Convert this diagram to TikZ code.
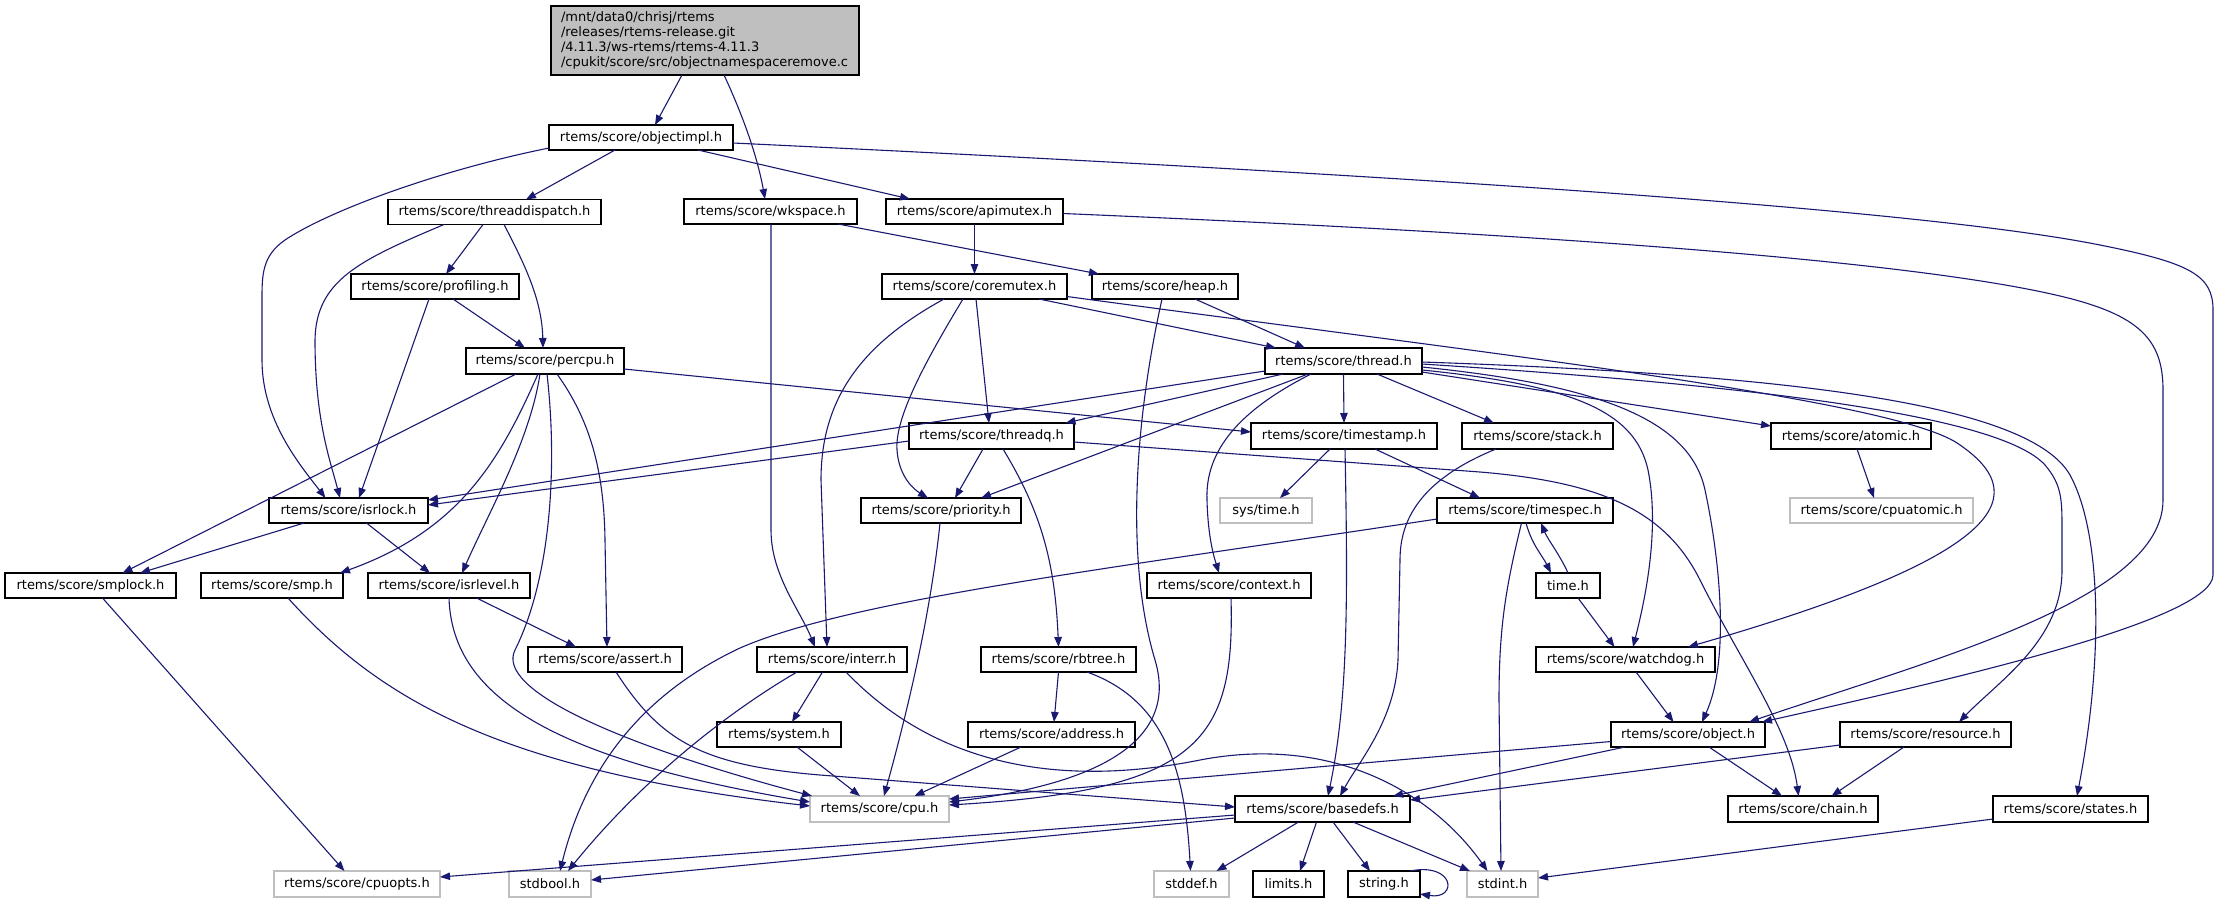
\documentclass[tikz,border=0pt]{standalone}
\usepackage{fontspec}
\setmainfont{DejaVu Sans}
\usetikzlibrary{arrows.meta}
\definecolor{dgblue}{RGB}{25,25,112}
\definecolor{sysgray}{RGB}{191,191,191}
\begin{document}
\begin{tikzpicture}[x=1pt,y=-1pt,
 inc/.style={draw=black,line width=1.3pt,fill=white,inner sep=0pt,outer sep=0pt,minimum height=25pt,font=\fontsize{13}{15}\selectfont},
 sysinc/.style={inc,draw=sysgray},
 rootinc/.style={inc,fill=sysgray,minimum height=69pt,inner xsep=10pt,text width=288pt,align=left,font=\fontsize{13}{14.8}\selectfont},
 dep/.style={draw=dgblue,line width=1.1pt,-{Triangle[length=10pt,width=7.5pt]}}]
\useasboundingbox (0,0) rectangle (2219,903);

\node[rootinc] (root) at (705,40.5) {/mnt/data0/chrisj/rtems\\/releases/rtems-release.git\\/4.11.3/ws-rtems/rtems-4.11.3\\/cpukit/score/src/objectnamespaceremove.c};
\node[inc,minimum width=184pt] (objectimpl) at (641,137.5) {rtems/score/objectimpl.h};
\node[inc,minimum width=213pt] (threaddispatch) at (494.5,212) {rtems/score/threaddispatch.h};
\node[inc,minimum width=173pt] (wkspace) at (770.5,211.5) {rtems/score/wkspace.h};
\node[inc,minimum width=177pt] (apimutex) at (974.5,211.5) {rtems/score/apimutex.h};
\node[inc,minimum width=168pt] (profiling) at (435,286.5) {rtems/score/profiling.h};
\node[inc,minimum width=185pt] (coremutex) at (974.5,286.5) {rtems/score/coremutex.h};
\node[inc,minimum width=146pt] (heap) at (1165,286.5) {rtems/score/heap.h};
\node[inc,minimum width=158pt,minimum height=26pt] (percpu) at (545,361) {rtems/score/percpu.h};
\node[inc,minimum width=157pt,minimum height=26pt] (thread) at (1343.5,361) {rtems/score/thread.h};
\node[inc,minimum width=165pt,minimum height=26pt] (threadq) at (991.5,436) {rtems/score/threadq.h};
\node[inc,minimum width=186pt,minimum height=26pt] (timestamp) at (1344,436) {rtems/score/timestamp.h};
\node[inc,minimum width=151pt,minimum height=26pt] (stack) at (1537.5,436) {rtems/score/stack.h};
\node[inc,minimum width=160pt,minimum height=26pt] (atomic) at (1851,436) {rtems/score/atomic.h};
\node[inc,minimum width=159pt] (isrlock) at (348.5,510.5) {rtems/score/isrlock.h};
\node[inc,minimum width=160pt] (priority) at (941,510.5) {rtems/score/priority.h};
\node[sysinc,minimum width=92pt] (systime) at (1266,510.5) {sys/time.h};
\node[inc,minimum width=176pt] (timespec) at (1525,510.5) {rtems/score/timespec.h};
\node[sysinc,minimum width=183pt] (cpuatomic) at (1881.5,510.5) {rtems/score/cpuatomic.h};
\node[inc,minimum width=171pt] (smplock) at (90.5,585.5) {rtems/score/smplock.h};
\node[inc,minimum width=142pt] (smp) at (272,585.5) {rtems/score/smp.h};
\node[inc,minimum width=162pt] (isrlevel) at (449,585.5) {rtems/score/isrlevel.h};
\node[inc,minimum width=164pt] (context) at (1229,585.5) {rtems/score/context.h};
\node[inc,minimum width=64pt] (time) at (1568,585.5) {time.h};
\node[inc,minimum width=154pt] (assert) at (605,659.5) {rtems/score/assert.h};
\node[inc,minimum width=150pt] (interr) at (832,659.5) {rtems/score/interr.h};
\node[inc,minimum width=155pt] (rbtree) at (1058.5,659.5) {rtems/score/rbtree.h};
\node[inc,minimum width=179pt] (watchdog) at (1625.5,659.5) {rtems/score/watchdog.h};
\node[inc,minimum width=124pt] (system) at (779,734.5) {rtems/system.h};
\node[inc,minimum width=167pt] (address) at (1051.5,734.5) {rtems/score/address.h};
\node[inc,minimum width=154pt] (object) at (1688,734.5) {rtems/score/object.h};
\node[inc,minimum width=171pt] (resource) at (1925.5,734.5) {rtems/score/resource.h};
\node[sysinc,minimum width=139pt,minimum height=26pt] (cpu) at (879.5,809) {rtems/score/cpu.h};
\node[inc,minimum width=175pt,minimum height=26pt] (basedefs) at (1322.5,809) {rtems/score/basedefs.h};
\node[inc,minimum width=150pt,minimum height=26pt] (chain) at (1803,809) {rtems/score/chain.h};
\node[inc,minimum width=155pt,minimum height=26pt] (states) at (2070.5,809) {rtems/score/states.h};
\node[sysinc,minimum width=166pt,minimum height=26pt] (cpuopts) at (357,884) {rtems/score/cpuopts.h};
\node[sysinc,minimum width=82pt,minimum height=26pt] (stdbool) at (550,884) {stdbool.h};
\node[sysinc,minimum width=75pt,minimum height=26pt] (stddef) at (1191.5,884) {stddef.h};
\node[inc,minimum width=71pt,minimum height=26pt] (limits) at (1288.5,884) {limits.h};
\node[inc,minimum width=72pt,minimum height=26pt] (string) at (1384,884) {string.h};
\node[sysinc,minimum width=71pt,minimum height=26pt] (stdint) at (1502.5,884) {stdint.h};

\draw[dep] ([xshift=-23pt]root.south) -- ([xshift=14pt]objectimpl.north);
\draw[dep] ([xshift=19pt]root.south) .. controls (745,120) and (758,160) .. ([xshift=-5.5pt]wkspace.north);
\draw[dep] ([yshift=-10.5pt]objectimpl.west) .. controls (440,170) and (330,210) .. (285,240) .. controls (262,256) and (262,275) .. (262,300) -- (262,360) .. controls (262,420) and (300,465) .. ([xshift=-23pt]isrlock.north);
\draw[dep] ([xshift=-26pt]objectimpl.south) -- ([xshift=31.5pt]threaddispatch.north);
\draw[dep] ([xshift=57pt]objectimpl.south) -- ([xshift=-64.5pt]apimutex.north);
\draw[dep] ([yshift=-5.5pt]objectimpl.east) .. controls (1300,170) and (1900,205) .. (2100,245) .. controls (2190,263) and (2213,275) .. (2213,310) -- (2213,575) .. controls (2213,620) and (1950,680) .. ([xshift=-3pt]object.north east);
\draw[dep] ([xshift=-50.5pt]threaddispatch.south) .. controls (360,260) and (316,280) .. (315,340) .. controls (315,420) and (330,460) .. ([xshift=-8.5pt]isrlock.north);
\draw[dep] ([xshift=-11.5pt]threaddispatch.south) -- ([xshift=11pt]profiling.north);
\draw[dep] ([xshift=9.5pt]threaddispatch.south) .. controls (525,265) and (542,300) .. ([xshift=-2pt]percpu.north);
\draw[dep] ([xshift=-6pt]profiling.south) -- ([xshift=10.5pt]isrlock.north);
\draw[dep] ([xshift=18pt]profiling.south) -- ([xshift=-20pt]percpu.north);
\draw[dep] ([xshift=-29pt]percpu.south) -- ([xshift=32pt]smplock.north);
\draw[dep] ([xshift=-7pt]percpu.south) .. controls (500,460) and (460,530) .. ([xshift=68pt]smp.north);
\draw[dep] ([xshift=-5pt]percpu.south) .. controls (530,440) and (490,510) .. ([xshift=13pt]isrlevel.north);
\draw[dep] ([xshift=2pt]percpu.south) .. controls (558,470) and (550,580) .. (515,650) .. controls (495,690) and (620,745) .. ([xshift=2pt]cpu.north west);
\draw[dep] ([xshift=12pt]percpu.south) .. controls (590,420) and (604,470) .. (605,540) -- ([xshift=2pt]assert.north);
\draw[dep] ([yshift=-8pt]percpu.east) -- ([yshift=4pt]timestamp.west);
\draw[dep] ([xshift=67.5pt]wkspace.south) -- ([xshift=-66pt]heap.north);
\draw[dep] ([xshift=0.5pt]wkspace.south) -- (771,530) .. controls (771,575) and (800,610) .. ([xshift=-17pt]interr.north);
\draw[dep] (apimutex.south) -- (coremutex.north);
\draw[dep] ([yshift=-2pt]apimutex.east) .. controls (1500,232) and (1900,258) .. (2060,296) .. controls (2140,315) and (2163,340) .. (2163,390) -- (2163,500) .. controls (2163,600) and (1930,660) .. ([xshift=-16pt]object.north east);
\draw[dep] ([xshift=-30.5pt]coremutex.south) .. controls (860,345) and (821,400) .. (821,480) -- ([xshift=-5pt]interr.north);
\draw[dep] ([xshift=-11.5pt]coremutex.south) .. controls (920,370) and (895,420) .. (897,450) .. controls (899,478) and (915,490) .. ([xshift=-13pt]priority.north);
\draw[dep] ([xshift=1.5pt]coremutex.south) -- ([xshift=-2.5pt]threadq.north);
\draw[dep] ([xshift=64.5pt]coremutex.south) -- ([xshift=-67.5pt]thread.north);
\draw[dep] ([yshift=-10pt]coremutex.east) .. controls (1500,355) and (1900,400) .. (1960,445) .. controls (2040,500) and (1990,560) .. ([xshift=62.5pt]watchdog.north);
\draw[dep] ([xshift=30pt]heap.south) -- ([xshift=-38.5pt]thread.north);
\draw[dep] ([xshift=-3pt]heap.south) .. controls (1135,420) and (1125,560) .. (1155,660) .. controls (1185,760) and (1050,790) .. ([yshift=7pt]cpu.east);
\draw[dep] ([yshift=-10pt]thread.west) -- ([yshift=10.5pt]isrlock.east);
\draw[dep] ([xshift=-60.5pt]thread.south) -- ([xshift=74pt]threadq.north);
\draw[dep] ([xshift=-35.5pt]thread.south) -- ([xshift=40pt]priority.north);
\draw[dep] ([xshift=-32.5pt]thread.south) .. controls (1240,410) and (1205,450) .. (1207,500) .. controls (1208,540) and (1215,560) .. ([xshift=-10pt]context.north);
\draw[dep] (thread.south) -- (timestamp.north);
\draw[dep] ([xshift=33.5pt]thread.south) -- ([xshift=-43.5pt]stack.north);
\draw[dep] ([yshift=-11pt]thread.east) -- ([yshift=10pt]atomic.west);
\draw[dep] ([yshift=-9pt]thread.east) .. controls (1570,385) and (1635,410) .. (1648,470) .. controls (1660,530) and (1645,600) .. ([xshift=7.5pt]watchdog.north);
\draw[dep] ([yshift=-6pt]thread.east) .. controls (1600,385) and (1690,420) .. (1705,490) .. controls (1720,560) and (1730,660) .. ([xshift=14pt]object.north);
\draw[dep] ([yshift=-3pt]thread.east) .. controls (1750,385) and (2000,415) .. (2045,465) .. controls (2062,485) and (2062,500) .. (2062,530) -- (2062,570) .. controls (2062,640) and (2000,680) .. ([xshift=33.5pt]resource.north);
\draw[dep] ([yshift=-1pt]thread.east) .. controls (1800,375) and (2030,405) .. (2070,475) .. controls (2100,530) and (2105,650) .. ([xshift=6.5pt]states.north);
\draw[dep] ([xshift=-14pt]timestamp.south) -- ([xshift=14pt]systime.north);
\draw[dep] ([xshift=1pt]timestamp.south) .. controls (1348,600) and (1348,700) .. ([xshift=5.5pt]basedefs.north);
\draw[dep] ([xshift=31pt]timestamp.south) -- ([xshift=-45pt]timespec.north);
\draw[dep] ([xshift=-41.5pt]stack.south) .. controls (1420,480) and (1400,520) .. (1400,560) -- (1398,660) .. controls (1395,720) and (1360,760) .. ([xshift=17.5pt]basedefs.north);
\draw[dep] ([xshift=6pt]atomic.south) -- ([xshift=-7.5pt]cpuatomic.north);
\draw[dep] ([yshift=-5pt]threadq.west) -- ([yshift=5.5pt]isrlock.east);
\draw[dep] ([xshift=-8.5pt]threadq.south) -- ([xshift=14pt]priority.north);
\draw[dep] ([xshift=11.5pt]threadq.south) .. controls (1040,510) and (1055,560) .. (rbtree.north);
\draw[dep] ([yshift=-6pt]threadq.east) -- (1480,472) .. controls (1600,482) and (1665,510) .. (1700,580) .. controls (1740,660) and (1790,730) .. ([xshift=-4.5pt]chain.north);
\draw[dep] ([xshift=-1pt]priority.south) .. controls (930,620) and (905,720) .. ([xshift=4.5pt]cpu.north);
\draw[dep] ([xshift=-35pt]interr.south) .. controls (740,705) and (650,770) .. ([xshift=18pt]stdbool.north);
\draw[dep] ([xshift=-9.5pt]interr.south) -- ([xshift=13pt]system.north);
\draw[dep] ([xshift=14pt]interr.south) .. controls (930,760) and (1050,790) .. (1200,760) .. controls (1330,735) and (1430,790) .. ([xshift=-15pt]stdint.north);
\draw[dep] (rbtree.south) -- ([xshift=2.5pt]address.north);
\draw[dep] ([xshift=28.5pt]rbtree.south) .. controls (1165,700) and (1185,770) .. ([xshift=-1pt]stddef.north);
\draw[dep] ([xshift=-30.5pt]address.south) -- ([xshift=35pt]cpu.north);
\draw[dep] ([xshift=18pt]system.south) -- ([xshift=-19.5pt]cpu.north);
\draw[dep] ([xshift=2pt]context.south) .. controls (1235,740) and (1200,790) .. ([yshift=4pt]cpu.east);
\draw[dep] ([yshift=-7pt]object.west) -- ([yshift=10pt]cpu.east);
\draw[dep] ([xshift=-63pt]object.south) -- ([xshift=70.5pt]basedefs.north);
\draw[dep] ([xshift=21pt]object.south) -- ([xshift=-21pt]chain.north);
\draw[dep] ([yshift=-10.5pt]resource.west) -- ([yshift=9pt]basedefs.east);
\draw[dep] ([xshift=-21.5pt]resource.south) -- ([xshift=28.5pt]chain.north);
\draw[dep] ([yshift=-10pt]states.west) -- ([yshift=6pt]stdint.east);
\draw[dep] ([yshift=-6pt]basedefs.west) -- ([yshift=7pt]cpuopts.east);
\draw[dep] ([yshift=-9pt]basedefs.west) -- ([yshift=4pt]stdbool.east);
\draw[dep] ([xshift=-24pt]basedefs.south) -- ([xshift=25pt]stddef.north);
\draw[dep] ([xshift=-6pt]basedefs.south) -- ([xshift=11.5pt]limits.north);
\draw[dep] ([xshift=10.5pt]basedefs.south) -- ([xshift=-14pt]string.north);
\draw[dep] ([xshift=30.5pt]basedefs.south) -- ([xshift=3pt]stdint.north west);
\draw[dep] ([xshift=-10pt]string.north east) .. controls (1455,862) and (1458,900) .. ([yshift=-10pt]string.east);
\draw[dep] ([xshift=1pt]timespec.south) .. controls (1532,545) and (1542,555) .. ([xshift=-17pt]time.north);
\draw[dep] (time.north) .. controls (1560,555) and (1548,540) .. ([xshift=16pt]timespec.south);
\draw[dep] ([xshift=-3.5pt]timespec.south) .. controls (1505,590) and (1499,630) .. (1499,700) -- ([xshift=-1.5pt]stdint.north);
\draw[dep] ([yshift=-8.5pt]timespec.west) .. controls (1100,570) and (850,600) .. (740,648) .. controls (640,695) and (585,770) .. ([xshift=10pt]stdbool.north);
\draw[dep] ([xshift=10pt]time.south) -- ([xshift=-11pt]watchdog.north);
\draw[dep] ([xshift=10.5pt]watchdog.south) -- ([xshift=-14.5pt]object.north);
\draw[dep] ([xshift=-44.5pt]isrlock.south) -- ([xshift=49.5pt]smplock.north);
\draw[dep] ([xshift=18pt]isrlock.south) -- ([xshift=-19pt]isrlevel.north);
\draw[dep] ([xshift=27.5pt]isrlevel.south) -- ([xshift=-29pt]assert.north);
\draw[dep] (isrlevel.south) .. controls (452,700) and (560,760) .. ([yshift=7pt]cpu.west);
\draw[dep] ([xshift=16pt]smp.south) .. controls (380,700) and (500,770) .. ([yshift=3pt]cpu.west);
\draw[dep] ([xshift=11pt]assert.south) .. controls (660,740) and (700,765) .. (820,775) -- ([yshift=2pt]basedefs.west);
\draw[dep] ([xshift=12pt]smplock.south) -- ([xshift=-12.5pt]cpuopts.north);
\end{tikzpicture}
\end{document}
